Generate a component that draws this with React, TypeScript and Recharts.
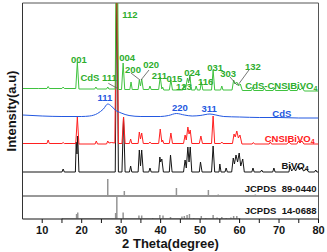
import React from 'react';
import {
  ComposedChart,
  Line,
  XAxis,
  YAxis,
  ReferenceLine,
  ReferenceDot,
  Label,
} from 'recharts';

// each pattern: [2 theta (deg), intensity above its own baseline (a.u.)]
const compositePattern: [number, number][] = [
  [5, 0.5], [9, 0.5], [11.2, 0.5], [11.5, 2.5], [11.8, 0.5], [15, 0.5], [15.3, 2], [15.6, 0.5],
  [18.5, 0.5], [18.9, 27], [19.3, 0], [23.3, 0], [23.6, 2], [23.9, 0], [26.3, 0], [26.6, 2], [26.9, 0],
  [28.5, 0], [28.9, 240], [29.3, -0.5], [30.1, -0.5], [30.5, 26], [30.9, -0.5],
  [32.2, -0.5], [32.5, 7], [32.8, -0.5], [34.3, -0.5], [34.6, 9], [34.9, 3], [35.2, 10], [35.6, -0.5],
  [37, -0.5], [37.3, 3], [37.6, -0.5], [39.5, -0.5], [39.9, 12], [40.3, 0], [40.5, 2], [40.8, -1],
  [42.2, -1], [42.6, 9], [43, -1], [45.6, -1], [45.9, 4], [46.3, 0], [46.8, 11], [47.1, 6], [47.4, 14], [47.8, -1],
  [48.7, -1], [49, 3], [49.3, -1], [50, -1], [50.3, 7], [50.7, -1], [52.9, -1], [53.3, 19], [53.7, -1],
  [55.2, -1], [55.5, 3], [55.8, -1], [58.1, -1], [58.5, 9], [58.8, 5], [59.3, 7], [59.7, 3], [60.2, 5], [60.7, -1.5],
  [63, -1.5], [63.3, 1.5], [63.6, -1.5], [66, -1.5], [66.3, 1], [66.6, -1.5], [68.5, -1.5], [68.8, 1], [69.1, -1.5],
  [72.2, -1.5], [72.5, 1], [72.8, -1.5], [74.6, -1.5], [74.9, 1.5], [75.3, -1], [75.9, 1], [76.4, -2], [80, -2],
];

const cdsPattern: [number, number][] = [
  [5, 2], [10, 1], [15, 0.5], [20, 0.5], [22, 1], [24, 3.5], [25.5, 8], [26.6, 13], [27.5, 11],
  [28.5, 7], [30, 4], [32, 1.5], [35, 0.5], [40, 0.5], [42, 1.5], [44, 3.5], [46, 2], [48, 1],
  [50, 1.5], [52.5, 3], [54, 2], [56, 0.5], [60, 0], [65, -0.5], [70, -0.5], [75, -1], [80, -1],
];

const cnsiPattern: [number, number][] = [
  [5, 0.5], [11.2, 0.5], [11.5, 4], [11.8, 0.5], [15, 0.5], [15.3, 1.5], [15.6, 0.5],
  [18.5, 0.5], [18.9, 27], [19.3, 0], [23.4, 0], [23.7, 3], [24, 0], [26.3, 0], [26.6, 3], [26.9, 1],
  [27.5, 1.5], [28.4, 1], [28.9, 200], [29.3, 0.5], [30.2, 0.5], [30.6, 27], [31, 0.5],
  [32.1, 0.5], [32.4, 5], [32.7, 0.5], [34.3, 0.5], [34.6, 12], [34.9, 5], [35.2, 11], [35.6, 0.5],
  [37, 0.5], [37.3, 2], [37.6, 0.5], [39.5, 0.5], [39.9, 15], [40.3, 2], [40.5, 4], [40.8, 0.5],
  [42.2, 0.5], [42.6, 11], [43, 0.5], [45.8, 0.5], [46.2, 9], [46.5, 4], [46.9, 17], [47.2, 10], [47.5, 14], [47.9, 0.5],
  [49.8, 0.5], [50.2, 8], [50.6, 0.5], [52.9, 0.5], [53.3, 28], [53.7, 0.5], [55.2, 0.5], [55.5, 2], [55.8, 0.5],
  [58.2, 0.5], [58.6, 10], [58.9, 7], [59.3, 13], [59.7, 6], [60.1, 9], [60.6, 0],
  [63.2, 0], [63.5, 1.5], [63.8, 0], [67.5, 0], [67.8, 2], [68.1, 0], [72, 0], [72.5, 2], [73, 0],
  [74.5, 0], [74.9, 3], [75.3, 1], [75.8, 3], [76.3, 0], [80, 0],
];

const bivo4Pattern: [number, number][] = [
  [5, 0], [15, 0], [15.3, 3], [15.6, 0], [18.4, 0], [18.6, 30], [18.8, 18], [19, 36], [19.3, 0],
  [28.5, 0], [28.9, 200], [29.3, 0], [30.2, 0], [30.6, 55], [31, 0], [32.1, 0], [32.4, 6], [32.7, 0],
  [34.3, 0], [34.6, 22], [34.9, 6], [35.2, 22], [35.6, 0], [37, 0], [37.3, 4], [37.6, 0],
  [39.5, 0], [39.8, 15], [40, 10], [40.3, 13], [40.7, 0], [42.2, 0], [42.5, 17], [42.9, 0],
  [45.8, 0], [46.2, 12], [46.5, 4], [46.9, 25], [47.2, 10], [47.5, 25], [47.9, 0],
  [49.8, 0], [50.1, 10], [50.5, 0], [52.9, 0], [53.3, 26], [53.7, 0], [54.8, 0], [55, 8], [55.3, 0],
  [56.3, 0], [56.6, 4], [56.9, 0], [58, 0], [58.4, 14], [58.7, 8], [59.1, 17], [59.5, 10], [59.9, 19],
  [60.3, 6], [60.8, 13], [61.2, 0], [63.1, 0], [63.4, 4], [63.7, 0], [65.3, 0], [65.6, 2], [65.9, 0],
  [68.4, 0], [68.7, 4], [69, 0], [72.5, 0], [72.8, 6], [73.2, 1], [73.8, 4], [74.2, 1], [74.8, 6],
  [75.2, 2], [75.7, 5], [76.2, 1], [77, 3], [77.5, 0], [79, 0], [79.3, 2], [79.6, 0], [80, 0],
];

// reference cards: [2 theta, relative intensity]
const cdsCard: [number, number][] = [
  [26.6, 17], [30.8, 5], [44.0, 8], [52.1, 6], [54.6, 1.5], [64.0, 1.5],
];

const bivo4Card: [number, number][] = [
  [15.1, 1], [18.7, 5], [19.0, 6.5], [28.6, 6], [28.9, 22], [30.5, 6.5], [34.5, 3.5], [35.2, 3.5],
  [38.0, 1], [39.8, 4], [40.6, 3.5], [42.5, 2], [45.4, 2.5], [46.0, 3], [46.7, 4], [47.3, 5],
  [48.4, 1], [50.3, 3], [51.4, 1], [53.3, 4], [54.3, 1.5], [55.5, 2], [56.6, 1], [57.8, 1.5],
  [58.5, 3], [59.3, 3], [60.0, 1],
];

const xTicks = [10, 15, 20, 25, 30, 35, 40, 45, 50, 55, 60, 65, 70, 75, 80];

// vertical stacking of the patterns
const OFFSET = { composite: 130, cds: 102, cnsi: 75, bivo4: 47, cdsCard: 23, bivo4Card: 0 };

const GREEN = '#3fc23f';
const GREEN_TEXT = '#2eae2e';
const BLUE = '#2358e0';
const RED = '#ff2020';
const BLACK = '#151515';
const GRAY = '#949494';
const FONT = '"Liberation Sans", Arial, sans-serif';

const toRows = (pts: [number, number][], offset: number) =>
  pts.map(([x, y]) => ({ x, y: y + offset }));

const toSticks = (pts: [number, number][], offset: number) =>
  pts.flatMap(([x, h]) => [
    { x, y: offset },
    { x, y: offset + h },
    { x, y: offset },
  ]);

type Note = { x: number; y: number; text: string; color: string; anchor?: string; size?: number; sub?: string };

const notes: Note[] = [
  { x: 19.3, y: 160, text: '001', color: GREEN_TEXT },
  { x: 24.3, y: 142, text: 'CdS 111', color: GREEN_TEXT },
  { x: 32.2, y: 205, text: '112', color: GREEN_TEXT },
  { x: 31.5, y: 161.5, text: '004', color: GREEN_TEXT },
  { x: 33.0, y: 150, text: '200', color: GREEN_TEXT },
  { x: 37.6, y: 155, text: '020', color: GREEN_TEXT },
  { x: 39.7, y: 143.5, text: '211', color: GREEN_TEXT },
  { x: 43.5, y: 141, text: '015', color: GREEN_TEXT },
  { x: 45.9, y: 132.5, text: '123', color: GREEN_TEXT },
  { x: 48.0, y: 147, text: '024', color: GREEN_TEXT },
  { x: 51.4, y: 137.5, text: '116', color: GREEN_TEXT },
  { x: 53.8, y: 152, text: '031', color: GREEN_TEXT },
  { x: 57.1, y: 146, text: '303', color: GREEN_TEXT },
  { x: 63.4, y: 153, text: '132', color: GREEN_TEXT },
  { x: 79.7, y: 134, text: 'CdS-CNSIBiVO', sub: '4', color: GREEN_TEXT, anchor: 'end', size: 9.5 },
  { x: 25.9, y: 122, text: '111', color: BLUE },
  { x: 44.9, y: 112, text: '220', color: BLUE },
  { x: 52.3, y: 111, text: '311', color: BLUE },
  { x: 70.7, y: 106, text: 'CdS', color: BLUE },
  { x: 79.0, y: 81, text: 'CNSIBiVO', sub: '4', color: RED, anchor: 'end' },
  { x: 77.5, y: 54, text: 'BiVO', sub: '4', color: BLACK, anchor: 'end' },
  { x: 79.5, y: 31, text: 'JCPDS  89-0440', color: BLACK, anchor: 'end', size: 9.5 },
  { x: 79.5, y: 9, text: 'JCPDS  14-0688', color: BLACK, anchor: 'end', size: 9.5 },
];

const leaders: [number, number, number, number][] = [
  [26.74, 135.7, 29.0, 130.7],
  [32.49, 146, 34.77, 139],
  [37.05, 149, 35.02, 139],
  [47.44, 142, 47.19, 138],
  [57.57, 142, 59.34, 134],
  [62.38, 149, 59.6, 134],
];

const NoteText = ({ cx, cy, note }: { cx?: number; cy?: number; note: Note }) => (
  <text
    x={cx}
    y={cy}
    fill={note.color}
    fontSize={note.size ?? 9.5}
    fontWeight="bold"
    fontFamily={FONT}
    textAnchor={note.anchor ?? 'middle'}
    dominantBaseline="central"
    style={{ whiteSpace: 'pre' }}
  >
    {note.text}
    {note.sub && (
      <tspan fontSize={7} dy={2.5}>
        {note.sub}
      </tspan>
    )}
  </text>
);

const App = () => {
  return (
    <div style={{ position: 'absolute', left: 0, top: 0 }}>
      <ComposedChart width={327} height={252} margin={{ top: 3, right: 8.5, bottom: 0, left: 0 }}>
        <XAxis
          type="number"
          dataKey="x"
          domain={[5, 80]}
          ticks={xTicks}
          allowDataOverflow
          tickFormatter={(v: number) => (v % 10 === 0 ? String(v) : '')}
          tickSize={4}
          tickMargin={3}
          height={33}
          stroke={BLACK}
          tick={{ fontSize: 11, fontWeight: 'bold', fill: BLACK, fontFamily: FONT }}
        >
          <Label
            value="2 Theta(degree)"
            position="insideBottom"
            offset={4}
            style={{ fontSize: 13, fontWeight: 'bold', fill: BLACK, fontFamily: FONT }}
          />
        </XAxis>
        <YAxis
          type="number"
          domain={[0, 216]}
          allowDataOverflow
          width={22.5}
          tick={false}
          tickLine={false}
          stroke="#333"
        >
          <Label
            value="Intensity(a.u)"
            angle={-90}
            position="center"
            style={{ fontSize: 13, fontWeight: 'bold', fill: BLACK, fontFamily: FONT }}
          />
        </YAxis>

        <ReferenceLine y={216} stroke="#555" />
        <ReferenceLine x={80} stroke="#555" />
        <ReferenceLine y={OFFSET.cdsCard} stroke="#333" />

        <Line data={toSticks(bivo4Card, OFFSET.bivo4Card)} dataKey="y" type="linear" stroke={GRAY} strokeWidth={1.5} dot={false} isAnimationActive={false} />
        <Line data={toSticks(cdsCard, OFFSET.cdsCard)} dataKey="y" type="linear" stroke={GRAY} strokeWidth={1.5} dot={false} isAnimationActive={false} />
        <Line data={toRows(bivo4Pattern, OFFSET.bivo4)} dataKey="y" type="linear" stroke={BLACK} strokeWidth={1} dot={false} isAnimationActive={false} />
        <Line data={toRows(cnsiPattern, OFFSET.cnsi)} dataKey="y" type="linear" stroke={RED} strokeWidth={1} dot={false} isAnimationActive={false} />
        <Line data={toRows(cdsPattern, OFFSET.cds)} dataKey="y" type="monotone" stroke={BLUE} strokeWidth={1} dot={false} isAnimationActive={false} />
        <Line data={toRows(compositePattern, OFFSET.composite)} dataKey="y" type="linear" stroke={GREEN} strokeWidth={1} dot={false} isAnimationActive={false} />

        {leaders.map(([x1, y1, x2, y2], i) => (
          <ReferenceLine
            key={`l${i}`}
            segment={[{ x: x1, y: y1 }, { x: x2, y: y2 }]}
            stroke="#555"
            strokeWidth={0.8}
          />
        ))}
        {notes.map((n, i) => (
          <ReferenceDot
            key={`n${i}`}
            x={n.x}
            y={n.y}
            r={0}
            shape={(p: any) => <NoteText cx={p.cx} cy={p.cy} note={n} />}
          />
        ))}
      </ComposedChart>
    </div>
  );
};

export default App;
